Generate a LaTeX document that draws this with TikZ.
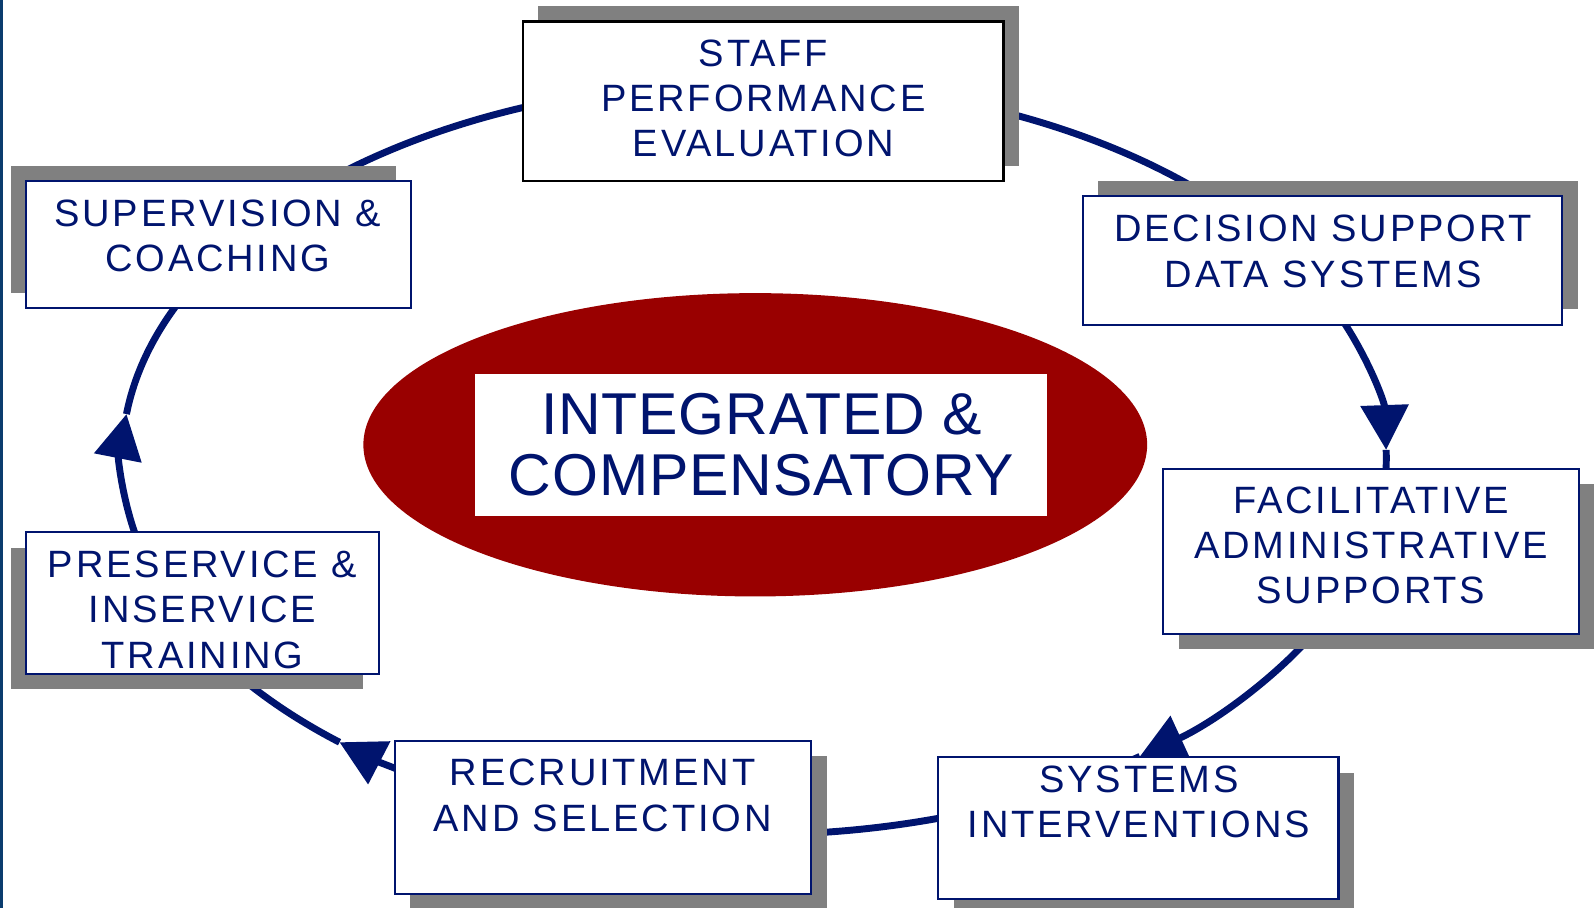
\documentclass[tikz,border=0pt]{standalone}
\usepackage{fontspec}
\setmainfont{Liberation Sans}
\newfontfamily\boxfont[LetterSpace=7.5]{Liberation Sans}
\newfontfamily\corefont[LetterSpace=1.5]{Liberation Sans}
\usetikzlibrary{arrows.meta,shadows,shapes.geometric,calc}
\definecolor{cyclenavy}{RGB}{0,20,110}
\definecolor{shadegray}{RGB}{128,128,128}
\definecolor{coreRed}{RGB}{153,0,0}
\definecolor{edgeblue}{RGB}{10,60,110}
\begin{document}
\begin{tikzpicture}[x=0.5pt,y=0.5pt,
  box/.style={draw=cyclenavy, line width=1pt, fill=white, inner sep=0pt},
  boxtext/.style={text=cyclenavy, align=center, inner sep=0pt, font=\boxfont\fontsize{18.7}{22.25}\selectfont},
  conn/.style={draw=cyclenavy, line width=3.4pt},
  tipend/.style={-{Triangle[length=22pt,width=23pt]}},
  sh/.style 2 args={general shadow={fill=shadegray, shadow xshift=#1, shadow yshift=#2}},
  ring/.style={x radius=621, y radius=370}
]
\useasboundingbox (0,0) rectangle (1568,892);
\fill[edgeblue] (0,0) rectangle (3,892);

% centre
\node[ellipse, fill=coreRed, inner sep=0pt, minimum width=385pt, minimum height=149pt] (core) at (742,455) {};
\node[fill=white, inner sep=0pt, minimum width=281pt, minimum height=70pt, text=cyclenavy, align=center,
      font=\corefont\fontsize{29}{30}\selectfont] (title) at (748,455) {INTEGRATED \&\\COMPENSATORY};

% connectors on the ring
\coordinate (E) at (741,442);
\coordinate (supOut) at ($(E)+(130:621 and 370)$);
\coordinate (staffOut) at ($(E)+(69:621 and 370)$);
\coordinate (decOut) at ($(E)+(23:621 and 370)$);
\coordinate (facTip) at ($(E)+(1.24:621 and 370)$);
\coordinate (facOut) at ($(E)+(-28:621 and 370)$);
\coordinate (sysTip) at ($(E)+(-52.4:621 and 370)$);
\coordinate (sysOut) at ($(E)+(-70:621 and 370)$);
\coordinate (recOut) at ($(E)+(-120:621 and 370)$);
\coordinate (preTip) at ($(E)+(-131:621 and 370)$);
\coordinate (preOut) at ($(E)+(193:621 and 370)$);
\coordinate (supTip) at ($(E)+(173.3:621 and 370)$);

\draw[conn] (supOut) arc[start angle=130, end angle=110, ring];
\draw[conn] (staffOut) arc[start angle=69, end angle=45, ring];
\draw[conn, tipend] (decOut) arc[start angle=23, end angle=1.24, ring];
\draw[conn] (facTip) arc[start angle=1.24, end angle=-4, ring];
\draw[conn, tipend] (facOut) arc[start angle=-28, end angle=-52.4, ring];
\draw[conn] (sysTip) arc[start angle=-52.4, end angle=-56, ring];
\draw[conn] (sysOut) arc[start angle=-70, end angle=-86, ring];
\draw[conn, tipend] (recOut) arc[start angle=-120, end angle=-131, ring];
\draw[conn] (preTip) arc[start angle=-131, end angle=-146, ring];
\draw[conn, tipend] (preOut) arc[start angle=193, end angle=173.3, ring];
\draw[conn] (supTip) arc[start angle=173.3, end angle=153, ring];

% boxes
\node[box, sh={7.5pt}{7.5pt}, draw=black, line width=1.2pt, minimum width=236pt, minimum height=78.5pt] (staff) at (750,792.5) {};
\node[boxtext] (staffT) at (750,795.5) {STAFF\\PERFORMANCE\\EVALUATION};

\node[box, sh={-7.5pt}{7.5pt}, minimum width=189pt, minimum height=62.5pt] (sup) at (215,651.5) {};
\node[boxtext] (supT) at (214,660) {SUPERVISION \&\\COACHING};

\node[box, sh={7.5pt}{7.5pt}, minimum width=235.5pt, minimum height=63pt] (dec) at (1299.5,636) {};
\node[boxtext] (decT) at (1300,645) {DECISION SUPPORT\\DATA SYSTEMS};

\node[box, sh={7.5pt}{-7.5pt}, minimum width=204pt, minimum height=81pt] (fac) at (1347,350) {};
\node[boxtext] (facT) at (1347,356) {FACILITATIVE\\ADMINISTRATIVE\\SUPPORTS};

\node[box, sh={7.5pt}{-7.5pt}, minimum width=196.5pt, minimum height=69.5pt] (sys) at (1118.5,78.5) {};
\node[boxtext] (sysT) at (1119,104) {SYSTEMS\\INTERVENTIONS};

\node[box, sh={7.5pt}{-7.5pt}, minimum width=204.5pt, minimum height=75pt] (rec) at (592.5,89) {};
\node[boxtext] (recT) at (592,110.5) {RECRUITMENT\\AND SELECTION};

\node[box, sh={-7.5pt}{-7.5pt}, minimum width=173pt, minimum height=69.5pt] (pre) at (199,299.5) {};
\node[boxtext] (preT) at (199,293) {PRESERVICE \&\\INSERVICE\\TRAINING};
\end{tikzpicture}
\end{document}
